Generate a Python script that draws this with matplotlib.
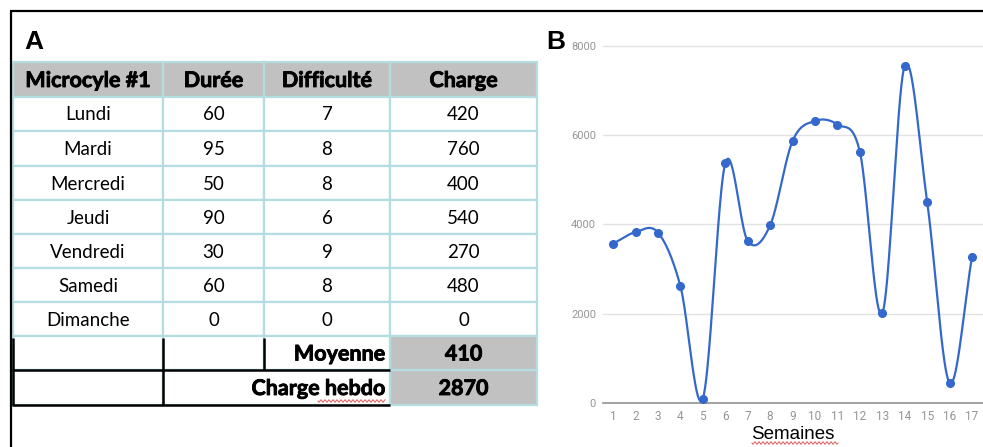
import matplotlib
matplotlib.use("Agg")
import matplotlib.pyplot as plt
import matplotlib.patheffects as pe
from matplotlib.patches import Rectangle
import numpy as np

# données du tableau (microcycle #1)
jours = ["Lundi", "Mardi", "Mercredi", "Jeudi", "Vendredi", "Samedi", "Dimanche"]
duree = [60, 95, 50, 90, 30, 60, 0]
difficulte = [7, 8, 8, 6, 9, 8, 0]
charge = [420, 760, 400, 540, 270, 480, 0]
entetes = ["Microcyle #1", "Durée", "Difficulté", "Charge"]

# charge hebdomadaire par semaine
semaines = list(range(1, 18))
charge_semaine = [3570, 3830, 3820, 2620, 100, 5370, 3630, 3980, 5870,
                  6320, 6240, 5630, 2010, 7560, 4510, 450, 3270]

moyenne = int(round(np.mean(charge)))
total = int(np.sum(charge))


def catmull_rom(x, y, n=40):
    x = np.asarray(x, float)
    y = np.asarray(y, float)
    m = np.zeros_like(y)
    m[1:-1] = (y[2:] - y[:-2]) / (x[2:] - x[:-2])
    m[0] = (y[1] - y[0]) / (x[1] - x[0])
    m[-1] = (y[-1] - y[-2]) / (x[-1] - x[-2])
    xs, ys = [], []
    for i in range(len(x) - 1):
        t = np.linspace(0, 1, n, endpoint=False)
        h = x[i + 1] - x[i]
        h00 = 2 * t**3 - 3 * t**2 + 1
        h10 = t**3 - 2 * t**2 + t
        h01 = -2 * t**3 + 3 * t**2
        h11 = t**3 - t**2
        xs.append(x[i] + t * h)
        ys.append(h00 * y[i] + h10 * h * m[i] + h01 * y[i + 1] + h11 * h * m[i + 1])
    xs.append([x[-1]])
    ys.append([y[-1]])
    return np.concatenate(xs), np.concatenate(ys)


W, H = 983, 447
fig = plt.figure(figsize=(W / 100, H / 100), dpi=100)

# --- calque pour le tableau (coordonnées en pixels) ---
ax0 = fig.add_axes([0, 0, 1, 1])
ax0.set_xlim(0, W)
ax0.set_ylim(H, 0)
ax0.axis("off")

# cadre noir
ax0.plot([10, W], [11, 11], color="black", lw=1.6, solid_capstyle="butt")
ax0.plot([11, 11], [11, H], color="black", lw=1.6, solid_capstyle="butt")

ax0.text(24, 42, "A", fontsize=19, fontweight="bold", family="Liberation Sans",
         va="center", ha="left")
ax0.text(546, 42, "B", fontsize=19, fontweight="bold", family="Liberation Sans",
         va="center", ha="left")

cols = [13, 163, 264, 390, 537]
rows = [62, 97, 131, 166, 200, 234, 268, 302, 336, 370, 405]
bleu = "#b3dde1"
gris = "#c1c1c1"
police = "Lato"
gras = dict(fontsize=15.5, fontweight="bold", family=police,
            path_effects=[pe.withStroke(linewidth=0.6, foreground="black")])


def cellule(c0, c1, r, fond="white"):
    ax0.add_patch(Rectangle((cols[c0], rows[r]), cols[c1] - cols[c0], rows[r + 1] - rows[r],
                            facecolor=fond, edgecolor=bleu, lw=1.6))


def centre(c0, c1, r):
    return (cols[c0] + cols[c1]) / 2, (rows[r] + rows[r + 1]) / 2 + 1


# en-tête
for j, txt in enumerate(entetes):
    cellule(j, j + 1, 0, gris)
    cx, cy = centre(j, j + 1, 0)
    ax0.text(cx, cy, txt, ha="center", va="center", **gras)

# lignes des jours
for i, jour in enumerate(jours):
    valeurs = [jour, duree[i], difficulte[i], charge[i]]
    for j, v in enumerate(valeurs):
        cellule(j, j + 1, i + 1)
        cx, cy = centre(j, j + 1, i + 1)
        ax0.text(cx, cy, str(v), ha="center", va="center", fontsize=13.5, family=police)

# moyenne et charge hebdo
r_moy = len(jours) + 1
r_tot = len(jours) + 2
for j in range(3):
    cellule(j, j + 1, r_moy)
cellule(3, 4, r_moy, gris)
cellule(0, 1, r_tot)
cellule(1, 3, r_tot)
cellule(3, 4, r_tot, gris)

cx, cy = centre(2, 3, r_moy)
ax0.text(cols[3] - 5, cy, "Moyenne", ha="right", va="center", **gras)
cx, cy = centre(3, 4, r_moy)
ax0.text(cx, cy, str(moyenne), ha="center", va="center", **gras)
cx, cy = centre(1, 3, r_tot)
ax0.text(cols[3] - 5, cy, "Charge hebdo", ha="right", va="center", **gras)
cx, cy = centre(3, 4, r_tot)
ax0.text(cx, cy, str(total), ha="center", va="center", **gras)

# bordures noires des deux dernières lignes
noir = dict(color="black", lw=1.8, solid_capstyle="butt")
ax0.plot([cols[0] - 1, cols[3]], [rows[r_tot], rows[r_tot]], **noir)
ax0.plot([cols[0] - 1, cols[3]], [rows[r_tot + 1], rows[r_tot + 1]], **noir)
ax0.plot([cols[0], cols[0]], [rows[r_moy] + 2, rows[r_tot + 1]], **noir)
ax0.plot([cols[1], cols[1]], [rows[r_moy] + 2, rows[r_tot + 1]], **noir)
ax0.plot([cols[2], cols[2]], [rows[r_moy] + 2, rows[r_tot]], **noir)


# soulignement rouge (correcteur orthographique)
def vague(x0, x1, y):
    xx = np.linspace(x0, x1, int((x1 - x0) * 2))
    ax0.plot(xx, y + 1.2 * np.sin((xx - x0) * 2 * np.pi / 4), color="#e05a5a", lw=0.7)


vague(318, 385, 401)
vague(752, 838, 443)

# --- graphique B ---
ax = fig.add_axes([603 / W, (H - 403) / H, 380 / W, (403 - 40) / H])
ax.set_facecolor("none")
bleu_ligne = "#3468cc"
xs, ys = catmull_rom(semaines, charge_semaine)
ax.plot(xs, ys, color=bleu_ligne, lw=1.6, clip_on=False, zorder=3)
ax.plot(semaines, charge_semaine, "o", color=bleu_ligne, ms=5.5, clip_on=False, zorder=4)

ax.set_xlim(0.55, 17.49)
ax.set_ylim(0, 8134)
ax.set_yticks([0, 2000, 4000, 6000, 8000])
ax.set_xticks(semaines)
ax.grid(axis="y", color="#e2e2e2", lw=1)
ax.set_axisbelow(True)
for s in ["top", "right", "left"]:
    ax.spines[s].set_visible(False)
ax.spines["bottom"].set_color("#9a9a9a")
ax.spines["bottom"].set_linewidth(1.3)
ax.tick_params(axis="both", length=0, colors="#959595")
ax.tick_params(axis="y", labelsize=8, pad=5)
ax.tick_params(axis="x", labelsize=8.5, pad=5)
for lab in ax.get_xticklabels() + ax.get_yticklabels():
    lab.set_family("Roboto")
ax.set_xlabel("Semaines", fontsize=13.5, family="Liberation Sans", color="black", labelpad=2)

fig.savefig("out.png", dpi=100)
